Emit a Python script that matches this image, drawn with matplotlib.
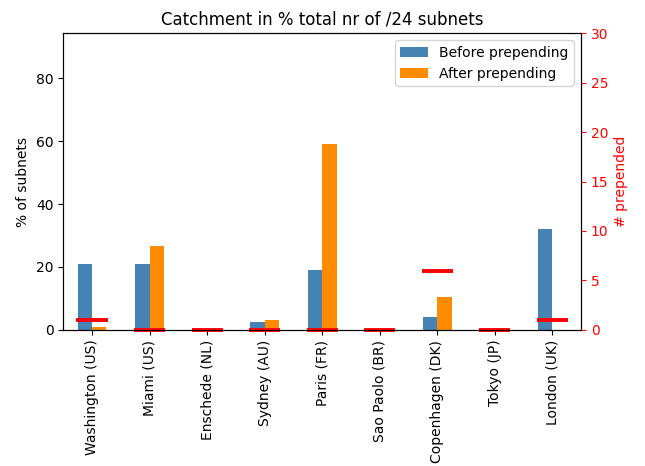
import matplotlib
matplotlib.use("Agg")
import matplotlib.pyplot as plt
import numpy as np
import pandas as pd

sites = ["Washington (US)", "Miami (US)", "Enschede (NL)", "Sydney (AU)", "Paris (FR)",
         "Sao Paolo (BR)", "Copenhagen (DK)", "Tokyo (JP)", "London (UK)"]
before = [21.0, 21.0, 0.0, 2.5, 19.0, 0.0, 4.2, 0.0, 32.0]
after = [0.9, 26.7, 0.0, 3.0, 59.0, 0.0, 10.4, 0.0, 0.0]
prepended = [1, 0, 0, 0, 0, 0, 6, 0, 1]

df = pd.DataFrame({"Before prepending": before, "After prepending": after}, index=sites)

fig, ax = plt.subplots(figsize=(6.45, 4.66), dpi=100)
df.plot(kind="bar", ax=ax, color=["steelblue", "darkorange"])
ax.set_ylim(0, 94.3)
ax.set_ylabel("% of subnets")
ax.set_title("Catchment in % total nr of /24 subnets")
ax.legend(loc="upper right")

ax2 = ax.twinx()
x = np.arange(len(sites))
ax2.hlines(prepended, x - 0.27, x + 0.27, colors="red", linewidth=2.8, clip_on=False)
ax2.set_ylim(0, 30)
ax2.set_ylabel("# prepended", color="red")
ax2.tick_params(axis="y", colors="red")
ax2.spines["right"].set_color("black")

fig.subplots_adjust(left=0.098, right=0.901, top=0.929, bottom=0.292)
fig.savefig("out.png")
